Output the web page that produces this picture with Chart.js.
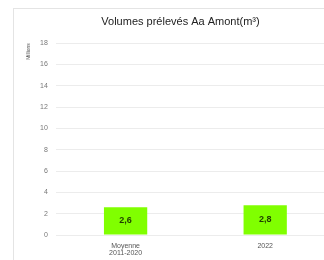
<!DOCTYPE html>
<html>
<head>
<meta charset="utf-8">
<script src="https://cdn.jsdelivr.net/npm/chart.js@4/dist/chart.umd.min.js"></script>
<style>
  html, body { margin: 0; padding: 0; background: #fff; overflow: hidden; }
  body { width: 324px; height: 260px; position: relative; }
  #frame { position: absolute; left: 13px; top: 8px; width: 340px; height: 256px;
           border-left: 1px solid #e4e4e4; border-top: 1px solid #e4e4e4; }
  #wrap { position: absolute; left: 0; top: 0; width: 340px; height: 256px; }
</style>
</head>
<body>
<div id="frame"><div id="wrap"><canvas id="chart"></canvas></div></div>
<script>
var categories = [['Moyenne', '2011-2020'], '2022'];
var volumes = [2.6, 2.8];
var valueLabels = ['2,6', '2,8'];
var yTicks = [0, 2, 4, 6, 8, 10, 12, 14, 16, 18];

// draw value labels inside bars
var barLabels = {
    id: 'barLabels',
    afterDatasetsDraw: function (chart) {
        var ctx = chart.ctx;
        var meta = chart.getDatasetMeta(0);
        ctx.save();
        ctx.font = 'bold 9px Arial, "Liberation Sans", sans-serif';
        ctx.fillStyle = '#1f3d00';
        ctx.textAlign = 'center';
        ctx.textBaseline = 'middle';
        meta.data.forEach(function (bar, i) {
            var mid = (bar.y + bar.base) / 2;
            ctx.fillText(valueLabels[i], bar.x, mid);
        });
        ctx.restore();
    }
};

var ctx = document.getElementById('chart').getContext('2d');
new Chart(ctx, {
    type: 'bar',
    data: {
        labels: categories,
        datasets: [{
            data: volumes,
            backgroundColor: '#80ff00',
            borderWidth: 0,
            barPercentage: 0.31,
            categoryPercentage: 1
        }]
    },
    options: {
        responsive: true,
        maintainAspectRatio: false,
        animation: false,
        layout: { padding: { left: 12, right: 19, top: 2, bottom: 8 } },
        plugins: {
            legend: { display: false },
            tooltip: { enabled: false },
            title: {
                display: true,
                text: 'Volumes prélevés Aa Amont(m³)',
                color: '#222',
                font: { family: 'Arial, "Liberation Sans", sans-serif', size: 11, weight: 'normal' },
                padding: { top: 4, bottom: 15 }
            }
        },
        scales: {
            x: {
                grid: { display: false },
                border: { display: false },
                ticks: {
                    color: '#555',
                    font: { family: 'Arial, "Liberation Sans", sans-serif', size: 7, lineHeight: 1.0 },
                    maxRotation: 0,
                    padding: 0
                }
            },
            y: {
                min: 0,
                max: 18,
                afterBuildTicks: function (axis) {
                    axis.ticks = yTicks.map(function (v) { return { value: v }; });
                },
                grid: { color: '#ececec', drawTicks: false },
                border: { display: false },
                title: {
                    display: true,
                    align: 'end',
                    text: 'Millions',
                    color: '#555',
                    font: { family: 'Arial, "Liberation Sans", sans-serif', size: 5 },
                    padding: 0
                },
                ticks: {
                    color: '#777',
                    font: { family: 'Arial, "Liberation Sans", sans-serif', size: 7 },
                    padding: 8
                }
            }
        }
    },
    plugins: [barLabels]
});
</script>
</body>
</html>
